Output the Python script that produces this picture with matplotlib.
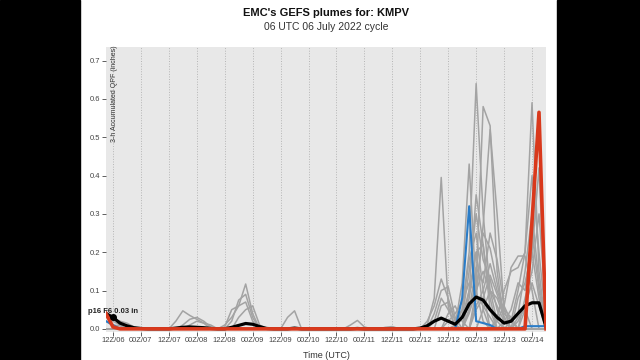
import numpy as np
import matplotlib
matplotlib.use("Agg")
import matplotlib.pyplot as plt
from matplotlib.patches import Rectangle

plt.rcParams["font.family"] = ["Liberation Sans", "DejaVu Sans"]

# --- data (3-h QPF, inches) ---
# forecast hours of the 06Z 06 July 2022 GEFS cycle
fhours = list(range(3, 193, 3))

tick_hours = [6, 18, 30, 42, 54, 66, 78, 90, 102, 114, 126, 138, 150, 162, 174, 186]
tick_labels = ["12Z/06", "00Z/07", "12Z/07", "00Z/08", "12Z/08", "00Z/09", "12Z/09", "00Z/10",
               "12Z/10", "00Z/11", "12Z/11", "00Z/12", "12Z/12", "00Z/13", "12Z/13", "00Z/14"]

# members are mostly dry, so only the non-zero hours are listed
grey_members = [
    {3: 0.045, 6: 0.02, 9: 0.01},
    {3: 0.03, 6: 0.025, 9: 0.02, 12: 0.015, 15: 0.005},
    {3: 0.02, 6: 0.01, 9: 0.008},
    {33: 0.02, 36: 0.047, 39: 0.035, 42: 0.025, 45: 0.015},
    {36: 0.01, 39: 0.025, 42: 0.03, 45: 0.02, 48: 0.005},
    {39: 0.01, 42: 0.02, 45: 0.015, 48: 0.01},
    {54: 0.01, 57: 0.03, 60: 0.06, 63: 0.117, 66: 0.04},
    {57: 0.02, 60: 0.075, 63: 0.09, 66: 0.03},
    {54: 0.005, 57: 0.05, 60: 0.06, 63: 0.07, 66: 0.02},
    {60: 0.03, 63: 0.05, 66: 0.06, 69: 0.01},
    {81: 0.03, 84: 0.047},
    {108: 0.01, 111: 0.022, 114: 0.005},
    {123: 0.004, 126: 0.006, 132: 0.003},
    {141: 0.01, 144: 0.08, 147: 0.395, 150: 0.06, 159: 0.1, 162: 0.2, 165: 0.05},
    {156: 0.05, 159: 0.2, 162: 0.64, 165: 0.3, 168: 0.1, 171: 0.02, 180: 0.03, 183: 0.05},
    {153: 0.01, 156: 0.12, 159: 0.43, 162: 0.1, 165: 0.02},
    {159: 0.05, 162: 0.12, 165: 0.58, 168: 0.53, 171: 0.15, 174: 0.02},
    {162: 0.08, 165: 0.27, 168: 0.52, 171: 0.3, 174: 0.05},
    {177: 0.02, 180: 0.1, 183: 0.2, 186: 0.59, 189: 0.15},
    {171: 0.02, 174: 0.06, 177: 0.16, 180: 0.19, 183: 0.19, 186: 0.1},
    {183: 0.05, 186: 0.2, 189: 0.42},
    {141: 0.02, 144: 0.06, 147: 0.13, 150: 0.08, 153: 0.02, 156: 0.05, 159: 0.18, 162: 0.25, 165: 0.1},
    {144: 0.04, 147: 0.1, 150: 0.11, 153: 0.03, 159: 0.08, 162: 0.2, 165: 0.22, 168: 0.08},
    {147: 0.06, 150: 0.07, 153: 0.02, 156: 0.03, 159: 0.15, 162: 0.3, 165: 0.18, 168: 0.13, 171: 0.05},
    {150: 0.04, 153: 0.06, 156: 0.02, 162: 0.1, 165: 0.25, 168: 0.21, 171: 0.12, 174: 0.03,
     180: 0.08, 183: 0.12, 186: 0.2, 189: 0.08},
    {159: 0.05, 162: 0.16, 165: 0.12, 168: 0.25, 171: 0.18, 174: 0.06, 177: 0.02,
     183: 0.08, 186: 0.15, 189: 0.3, 192: 0.05},
    {156: 0.03, 159: 0.1, 162: 0.35, 165: 0.22, 168: 0.05},
    {171: 0.03, 174: 0.1, 177: 0.15, 180: 0.16, 183: 0.2, 186: 0.4, 189: 0.2, 192: 0.02},
    {174: 0.02, 177: 0.05, 180: 0.12, 183: 0.1, 186: 0.25, 189: 0.1},
    {165: 0.05, 168: 0.1, 171: 0.08, 174: 0.03, 180: 0.02, 183: 0.06, 186: 0.12, 189: 0.06},
    {159: 0.04, 162: 0.1, 165: 0.15, 168: 0.1, 171: 0.06, 174: 0.02},
    {162: 0.05, 165: 0.08, 168: 0.14, 171: 0.09, 174: 0.04, 177: 0.02, 180: 0.04, 183: 0.15,
     186: 0.3, 189: 0.12},
    {150: 0.02, 153: 0.04, 156: 0.07, 159: 0.12, 162: 0.09, 165: 0.06, 168: 0.03},
    {144: 0.02, 147: 0.08, 150: 0.05, 153: 0.01, 162: 0.06, 165: 0.1, 168: 0.17, 171: 0.1,
     174: 0.05, 177: 0.03},
]

blue_member = {3: 0.02, 6: 0.01, 156: 0.08, 159: 0.32, 162: 0.02, 165: 0.015, 168: 0.01,
               183: 0.007, 186: 0.007, 189: 0.007, 192: 0.007}

red_member = {3: 0.04, 6: 0.005, 186: 0.28, 189: 0.565}

ens_mean = {3: 0.04, 6: 0.03, 9: 0.015, 12: 0.008, 15: 0.003, 18: 0.001,
            33: 0.002, 36: 0.004, 39: 0.005, 42: 0.004, 45: 0.003, 48: 0.001,
            57: 0.004, 60: 0.009, 63: 0.014, 66: 0.012, 69: 0.006, 72: 0.001,
            84: 0.002, 111: 0.001, 138: 0.002, 141: 0.008, 144: 0.02, 147: 0.028,
            150: 0.02, 153: 0.012, 156: 0.03, 159: 0.065, 162: 0.083, 165: 0.075,
            168: 0.05, 171: 0.03, 174: 0.015, 177: 0.02, 180: 0.04, 183: 0.06,
            186: 0.068, 189: 0.068, 192: 0.005}

hover_member = "p16"
hover_hour = 6
hover_value = 0.03


def expand(member):
    """sparse {hour: qpf} -> full series on fhours"""
    return np.array([member.get(h, 0.0) for h in fhours])


fig = plt.figure(figsize=(6.4, 3.6), dpi=100)
fig.patch.set_facecolor("white")
ax = fig.add_axes([0.1656, 0.078, 0.6875, 0.791])
ax.set_facecolor("#e8e8e8")

# plumes
for m in grey_members:
    ax.plot(fhours, expand(m), color="#a3a3a3", lw=1.1, zorder=2)
ax.plot(fhours, expand(blue_member), color="#2a7cc7", lw=1.5, zorder=3)
ax.plot(fhours, expand(ens_mean), color="black", lw=2.3, zorder=4)
ax.plot(fhours, expand(red_member), color="#d9391c", lw=2.6, zorder=5)

# hover marker
ax.plot([hover_hour], [hover_value], "o", color="black", ms=4, zorder=6)
ax.text(-0.04, 0.07, f"{hover_member} F{hover_hour} {hover_value:.2f} in", transform=ax.transAxes,
        fontsize=5.5, fontweight="bold", color="#222222", ha="left", va="center")

ax.set_xlim(3, 192)
ax.set_ylim(-0.008, 0.735)
ax.set_xticks(tick_hours)
ax.set_xticklabels(tick_labels)
ax.set_yticks([0.0, 0.1, 0.2, 0.3, 0.4, 0.5, 0.6, 0.7])
ax.tick_params(axis="both", labelsize=5.5, colors="#444444", length=3, width=0.6, pad=1)
ax.grid(axis="x", color="#b5b5b5", linestyle=":", lw=0.7)
for s in ax.spines.values():
    s.set_visible(False)

ax.text(0.012, 1.005, "3-h Accumulated QPF (inches)", transform=ax.transAxes, rotation=90,
        ha="left", va="top", fontsize=5, color="#333333")
ax.set_xlabel("Time (UTC)", fontsize=6.5, color="#333333", labelpad=5)

fig.text(0.509, 0.965, "EMC's GEFS plumes for: KMPV", ha="center", va="center",
         fontsize=8, fontweight="bold", color="#111111")
fig.text(0.509, 0.925, "06 UTC 06 July 2022 cycle", ha="center", va="center",
         fontsize=7.5, color="#333333")

# letterbox bars of the source frame
fig.add_artist(Rectangle((0, 0), 0.125, 1, transform=fig.transFigure, color="black", zorder=0))
fig.add_artist(Rectangle((0.870, 0), 0.130, 1, transform=fig.transFigure, color="black", zorder=0))

fig.savefig("out.png", dpi=100)
